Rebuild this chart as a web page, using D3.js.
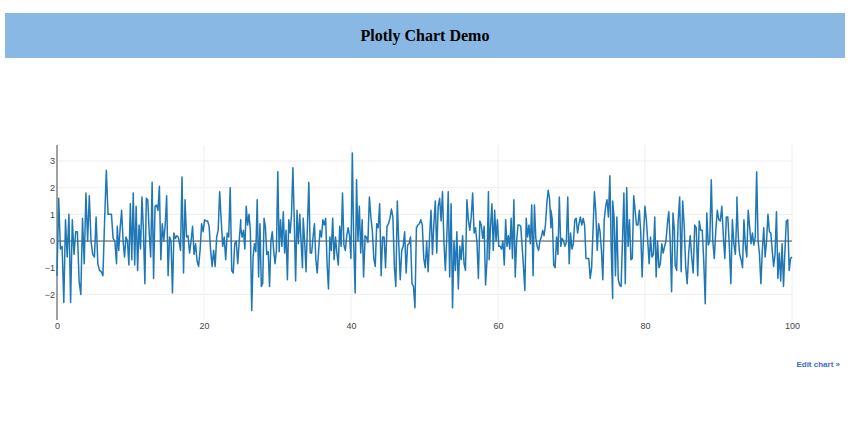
<!DOCTYPE html>
<html><head><meta charset="utf-8">
<script src="https://cdn.jsdelivr.net/npm/d3@7"></script>
<style>
body{margin:0;background:#fff;}
</style></head>
<body>
<svg id="c" width="850" height="445"></svg>
<script>
const titleText = "Plotly Chart Demo";
const xTicks = [0, 20, 40, 60, 80, 100];
const yTicks = [-2, -1, 0, 1, 2, 3];
// x-range (data units) covered by each segment of readings
const segStart = [0, 8.2, 16.6, 25.0, 33.5, 41.9, 50.3, 58.8, 67.2, 75.6, 84.1, 92.5];
const segEnd   = [8.1, 16.5, 25.0, 33.4, 41.9, 50.3, 58.7, 67.2, 75.6, 84.0, 92.5, 100];
const seg1 = [-1.3,1.6,-0.3,-0.2,-2.3,0.8,-0.6,1.0,-2.3,0.8,-0.5,0.35,0.35,-1.5,-2.0,0.85,-0.85,1.8,0,1.7,0,-0.5,-0.6,0.9,-0.85,-1.1,-1.15,-1.3,0.8,2.65,1.0,1.0,1.0,0.1,0,-0.85];
const seg2 = [0.55,-0.35,0.5,1.15,0,-0.6,0.15,0,-0.9,1.4,-0.7,1.8,-0.9,1.3,-1.1,0.6,-0.3,1.65,0.4,-1.6,1.6,1.55,0.3,-0.6,2.2,-1.4,1.3,1.35,1.15,2.05,-0.7,0.65,0,0.6,1.7,-1.3,0.15,0,-1.95,0.3,0.1,0.2,0.15];
const seg3 = [0,-0.35,2.4,-1.2,1.55,0.15,0.2,-0.45,0,0.55,-0.5,-0.1,-0.75,-0.95,-0.35,0.65,0.35,0.8,0.75,0.75,0.55,-0.35,-0.95,-0.35,-0.95,0.15,0.4,1.85,0.8,-0.2,0.15,-0.7,0.3,0.15,2.0,-1.1,-1.2,-0.1,0,-0.85,0,0.8];
const seg4 = [0.5,0.15,0.4,-0.3,1.3,0.6,1.0,0.4,-2.6,-0.6,-0.1,-0.4,1.55,-1.35,0.65,-1.7,-1.6,0.85,0.5,-0.5,-0.4,-1.7,0,0.35,-0.35,-0.85,-0.35,2.6,-0.4,0.8,-0.2,1.1,-0.45,0.4,-1.45,0.8,0.3,1.0,2.75,0.8,-1.5,1.15,-0.1,1.0,-0.05,-1.0];
const seg5 = [0.85,0,-1.15,0.6,2.2,-0.45,-0.45,0.15,0.65,-0.7,-1.2,-0.35,0.4,0.15,0.8,0.6,0.85,-0.85,-1.8,0.15,-0.35,0.85,-0.7,0.15,-0.45,-0.9,0.55,-0.2,1.8,-0.15,-0.35,0.2,0.5,0.2,-0.65,3.3,-0.1,-1.95,2.3,0,1.3,-0.45,0.8,-1.35,0];
const seg6 = [0.2,0.15,-0.05,1.65,0.9,0.4,-0.65,-0.95,0.65,0.5,1.4,-1.3,0.15,0.15,-1.0,0.55,0.65,0.85,1.2,0.9,-0.95,-1.7,1.5,-0.1,-1.45,-0.35,-0.2,0.35,-1.2,-0.15,-0.1,0.15,-1.6,-1.7,-2.5,0.5,0.6,0.65,0.8,0.6,-0.65,-1.0,0];
const seg7 = [-0.1,-1.15,0.15,1.15,-0.5,0.65,1.5,-0.45,1.3,1.6,0.75,1.85,-0.05,-1.1,0.15,1.85,-1.35,1.4,-2.5,0,-1.1,0.35,-1.8,-0.2,-0.7,0.2,-0.85,-1.1,1.55,0.8,0.4,0.9,1.8,0.3,0.5,-0.05,-1.4,0.75,0.6,0.1,0.55,-1.65,-0.7,1.85];
const seg8 = [-0.7,0.55,1.4,-0.35,1.15,0,0.8,-0.2,-0.2,-0.3,0,-0.9,0.8,-0.2,0.2,-0.3,0.85,-0.65,1.55,-1.35,0,0.6,0.6,0.55,-0.2,-0.95,-1.85,0.85,0.15,0.6,-0.1,1.35,-1.3,1.35,0.1,-0.2,-0.35,0,0.15,0.4,0.2,0.6,1.4,1.9,1.6,0.5];
const seg9 = [1.15,0.8,-0.9,-1.0,0.15,-0.5,1.65,-0.2,0.1,0,-0.2,-0.05,1.65,-0.85,0.3,-0.3,-0.1,0.8,0.85,0.3,0.65,0.9,0.6,0.85,0.6,-0.65,-0.65,-0.65,-1.4,-1.0,0.4,1.85,1.1,-0.35,0.65,0.35,-0.35,-1.45,0.8,1.3,1.55,0.9,2.45,-0.35,-2.15];
const seg10 = [1.5,0.9,-1.3,0.9,-1.45,-1.65,-1.7,0,1.8,-1.6,2.0,-0.2,0.8,-0.7,-0.65,1.7,1.15,0.6,0.6,1.15,0.35,-1.35,0.2,1.3,0.8,0,-0.85,0.15,-0.6,-0.5,0.9,-1.35,0,-1.0,-0.85,-0.1,-0.45,-0.2,0,0.65,1.1,0,-1.9,1.05,0.4];
const seg11 = [-0.9,-1.1,0.75,1.65,-1.15,1.5,0.6,-0.95,-1.6,-0.45,0.2,-0.6,-1.2,0.6,0.5,-1.3,0.75,0.4,0.4,-0.75,-2.35,1.05,-0.15,0,2.3,0,-0.65,0.4,1.15,0.8,0.75,1.3,0.2,-0.65,0.9,0.9,-0.2,-1.6,0.8,-0.1,-0.5,1.15];
const seg12 = [1.65,0.15,-0.5,-0.7,-1.0,0.8,-0.15,-0.6,1.15,0.55,-0.1,0.3,-0.15,0.15,2.6,0,-0.5,-1.6,-0.35,0.5,-0.6,0,1.0,0.35,0.3,-0.35,-0.95,-0.5,1.1,-1.4,-0.45,-1.5,-0.1,-1.7,-0.35,0.75,0.8,-1.1,-0.65,-0.6];

const segs = [seg1,seg2,seg3,seg4,seg5,seg6,seg7,seg8,seg9,seg10,seg11,seg12];
const data = [];
segs.forEach((s,k)=>{
  const xs = d3.scaleLinear().domain([0, s.length-1]).range([segStart[k], segEnd[k]]);
  s.forEach((v,i)=>data.push({x: xs(i), y: v}));
});

const svg = d3.select("#c");
svg.append("rect").attr("x",5).attr("y",13).attr("width",840).attr("height",45).attr("fill","#89b8e4");
svg.append("text").attr("x",425).attr("y",41).attr("text-anchor","middle")
  .attr("font-family","'Liberation Serif','Times New Roman',serif").attr("font-weight","bold")
  .attr("font-size",16).attr("fill","#000").text(titleText);

const pL=57, pR=792, pT=145, pB=320;
const x = d3.scaleLinear().domain([0,100]).range([pL,pR]);
const y = d3.scaleLinear().domain([-2.96,3.6]).range([pB,pT]);

const g = svg.append("g");
g.selectAll(".hg").data(yTicks.filter(t=>t!==0)).enter().append("line")
  .attr("x1",pL).attr("x2",pR).attr("y1",d=>y(d)).attr("y2",d=>y(d))
  .attr("stroke","#eee").attr("stroke-width",1);
g.selectAll(".vg").data(xTicks.filter(t=>t!==0)).enter().append("line")
  .attr("x1",d=>x(d)).attr("x2",d=>x(d)).attr("y1",pT).attr("y2",pB)
  .attr("stroke","#eee").attr("stroke-width",1);
g.append("line").attr("x1",pL).attr("x2",pR).attr("y1",y(0)).attr("y2",y(0)).attr("stroke","#444").attr("stroke-width",1);
g.append("line").attr("x1",x(0)).attr("x2",x(0)).attr("y1",pT).attr("y2",pB).attr("stroke","#444").attr("stroke-width",1);

const xAxis = d3.axisBottom(x).tickValues(xTicks).tickSize(0).tickPadding(0);
const xa = svg.append("g").attr("transform",`translate(0,${pB+3})`).call(xAxis);
xa.select(".domain").remove();
xa.selectAll("text").attr("font-family","'Liberation Sans',Arial,sans-serif").attr("font-size",9).attr("fill","#444").attr("dy","0.71em");
const yAxis = d3.axisLeft(y).tickValues(yTicks).tickSize(0).tickPadding(0).tickFormat(d=>d<0?"\u2212"+Math.abs(d):d);
const ya = svg.append("g").attr("transform",`translate(${pL-2},0)`).call(yAxis);
ya.select(".domain").remove();
ya.selectAll("text").attr("font-family","'Liberation Sans',Arial,sans-serif").attr("font-size",9).attr("fill","#444");

const line = d3.line().x(d=>x(d.x)).y(d=>y(d.y));
svg.append("path").datum(data).attr("d",line).attr("fill","none")
  .attr("stroke","#1f77b4").attr("stroke-width",1.5).attr("stroke-linejoin","round");

svg.append("text").attr("x",840).attr("y",367).attr("text-anchor","end")
  .attr("font-family","'Liberation Sans',Arial,sans-serif").attr("font-weight","bold")
  .attr("font-size",8).attr("fill","#3b6dc7").text("Edit chart \u00bb");
</script>
</body></html>
